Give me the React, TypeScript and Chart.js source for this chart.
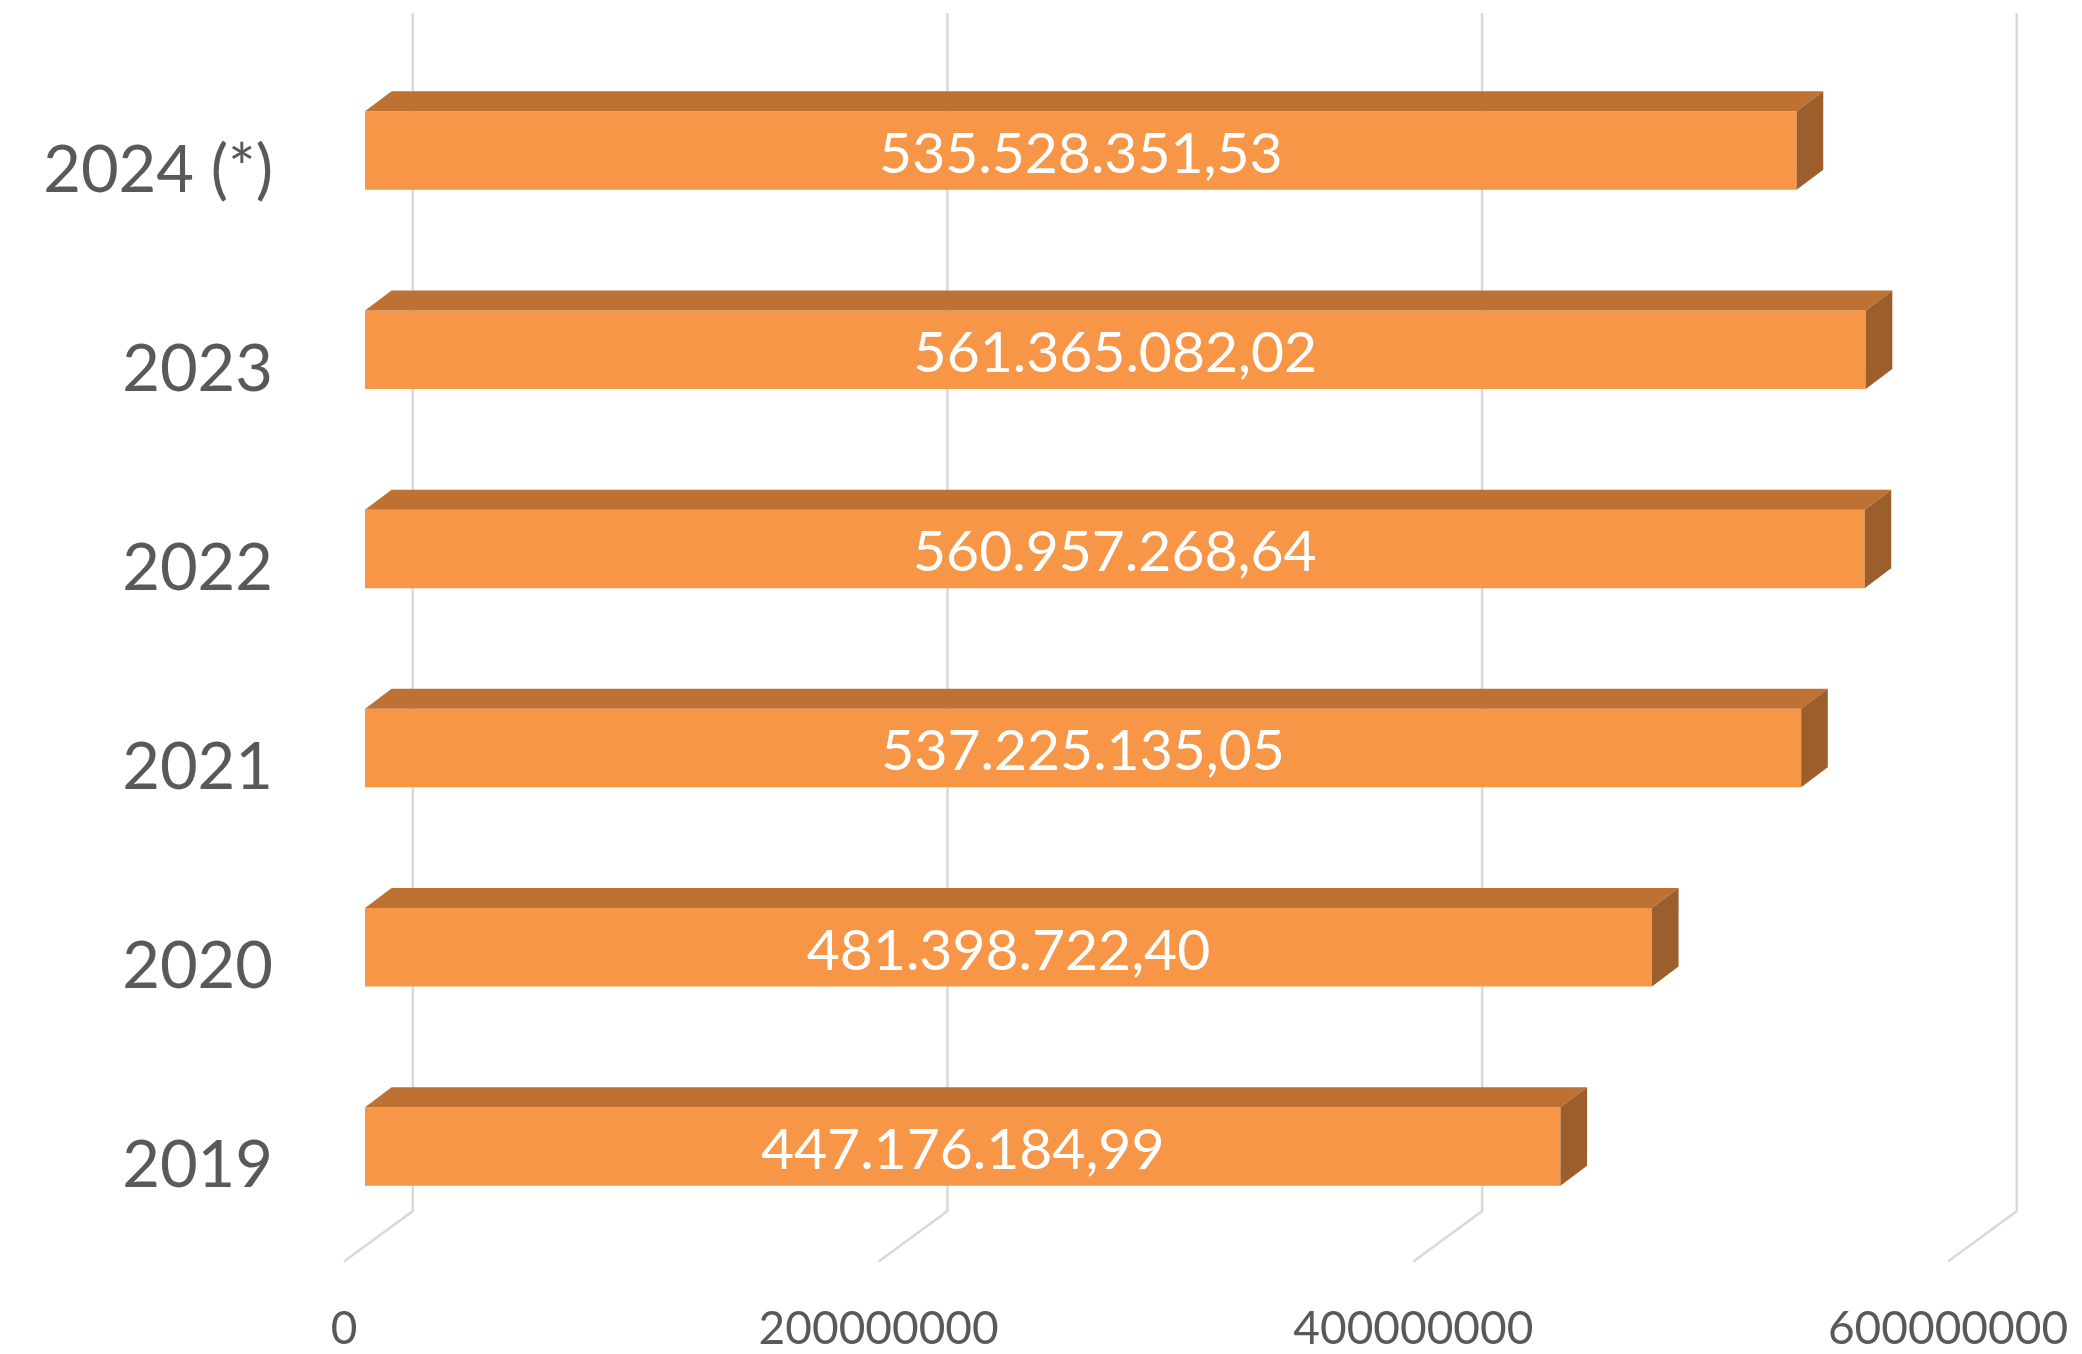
import React, { useEffect, useRef } from "react";
import { Chart, registerables } from "chart.js";

Chart.register(...registerables);

const years = ["2019", "2020", "2021", "2022", "2023", "2024 (*)"];
const amounts = [447176184.99, 481398722.4, 537225135.05, 560957268.64, 561365082.02, 535528351.53];
const tickValues = [0, 200000000, 400000000, 600000000];

const FRONT = "#F79646";
const TOP = "#BD7234";
const SIDE = "#9C5E2B";
const GRID = "#D9D9D9";
const TEXT = "#595959";
const FONT = "Lato, 'Open Sans', sans-serif";

function formatEs(v: number): string {
  const fixed = v.toFixed(2);
  const [intPart, dec] = fixed.split(".");
  const grouped = intPart.replace(/\B(?=(\d{3})+(?!\d))/g, ".");
  return grouped + "," + dec;
}

const DEPTH_X = 26.6;
const DEPTH_Y = 20;
const GRID_BACK_X = 47.8;
const FLOOR_FRONT_X = -21;
const GRID_TOP = 13;
const GRID_BOTTOM = 1211;
const FLOOR_FRONT_Y = 1261.5;

const threeD = {
  id: "threeD",
  beforeDatasetsDraw(chart: any) {
    const ctx = chart.ctx;
    const xs = chart.scales.x;
    ctx.save();
    ctx.strokeStyle = GRID;
    ctx.lineWidth = 2.5;
    tickValues.forEach((v) => {
      const px = xs.getPixelForValue(v);
      ctx.beginPath();
      ctx.moveTo(px + GRID_BACK_X, GRID_TOP);
      ctx.lineTo(px + GRID_BACK_X, GRID_BOTTOM);
      ctx.lineTo(px + FLOOR_FRONT_X, FLOOR_FRONT_Y);
      ctx.stroke();
    });
    ctx.restore();
  },
  afterDatasetsDraw(chart: any) {
    const ctx = chart.ctx;
    const meta = chart.getDatasetMeta(0);
    ctx.save();
    meta.data.forEach((bar: any, i: number) => {
      const { x, y, base, height } = bar.getProps(["x", "y", "base", "height"], true);
      const top = y - height / 2;
      const bottom = y + height / 2;
      ctx.fillStyle = TOP;
      ctx.beginPath();
      ctx.moveTo(base, top);
      ctx.lineTo(base + DEPTH_X, top - DEPTH_Y);
      ctx.lineTo(x + DEPTH_X, top - DEPTH_Y);
      ctx.lineTo(x, top);
      ctx.closePath();
      ctx.fill();
      ctx.fillStyle = SIDE;
      ctx.beginPath();
      ctx.moveTo(x, top);
      ctx.lineTo(x + DEPTH_X, top - DEPTH_Y);
      ctx.lineTo(x + DEPTH_X, bottom - DEPTH_Y);
      ctx.lineTo(x, bottom);
      ctx.closePath();
      ctx.fill();
      ctx.fillStyle = "#FFFFFF";
      ctx.font = `57px ${FONT}`;
      ctx.textAlign = "center";
      ctx.textBaseline = "middle";
      ctx.fillText(formatEs(amounts[i]), (base + x) / 2, y + 4);
    });
    ctx.restore();
  },
};

export default function App() {
  const ref = useRef<HTMLCanvasElement | null>(null);

  useEffect(() => {
    if (!ref.current) return;
    const chart = new Chart(ref.current, {
      type: "bar",
      data: {
        labels: years,
        datasets: [
          {
            data: amounts,
            backgroundColor: FRONT,
            borderWidth: 0,
            categoryPercentage: 1,
            barPercentage: 0.394,
          },
        ],
      },
      options: {
        indexAxis: "y",
        responsive: false,
        animation: false,
        devicePixelRatio: 1,
        layout: { padding: { top: 51, right: 113, left: 0, bottom: 0 } },
        plugins: {
          legend: { display: false },
          tooltip: { enabled: false },
        },
        scales: {
          x: {
            type: "linear",
            min: 0,
            max: 600000000,
            grid: { display: false, drawTicks: false },
            border: { display: false },
            ticks: {
              stepSize: 200000000,
              color: TEXT,
              font: { family: FONT, size: 46 },
              padding: 56,
              labelOffset: FLOOR_FRONT_X,
              maxRotation: 0,
              autoSkip: false,
              callback: (v: any) => String(v),
            },
            afterFit: (scale: any) => {
              scale.height = 108;
              scale.paddingLeft = 0;
              scale.paddingRight = 0;
            },
          },
          y: {
            reverse: true,
            grid: { display: false, drawTicks: false },
            border: { display: false },
            ticks: {
              color: TEXT,
              font: { family: FONT, size: 65 },
              padding: 92,
              labelOffset: 20,
            },
            afterFit: (scale: any) => {
              scale.width = 365;
              scale.paddingTop = 0;
              scale.paddingBottom = 0;
            },
          },
        },
      },
      plugins: [threeD],
    });
    return () => chart.destroy();
  }, []);

  return (
    <div style={{ position: "fixed", left: 0, top: 0, width: 2082, height: 1354, background: "#fff" }}>
      <canvas ref={ref} width={2082} height={1354} style={{ display: "block" }} />
    </div>
  );
}
